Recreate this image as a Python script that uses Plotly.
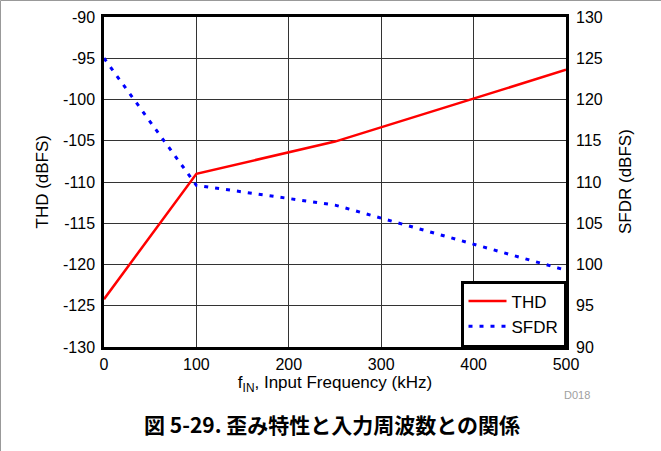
import plotly.graph_objects as go

# Input frequency (kHz) and measured distortion figures
freq_khz = [0, 100, 250, 500]
thd_dbfs = [-124.2, -109.0, -105.1, -96.4]
sfdr_dbfs = [125.0, 109.6, 107.2, 99.3]

x_ticks = [0, 100, 200, 300, 400, 500]
thd_ticks = [-130, -125, -120, -115, -110, -105, -100, -95, -90]
sfdr_ticks = [90, 95, 100, 105, 110, 115, 120, 125, 130]

W, H = 661, 451
L, R, T, B = 104, 95, 17, 104
PW, PH = W - L - R, H - T - B


def px(xp):
    return (xp - L) / PW


def py(yp):
    return (H - B - yp) / PH


FONT = "Liberation Sans"
TICK = 16
TITLE = 17

fig = go.Figure()
fig.add_trace(go.Scatter(
    x=freq_khz, y=thd_dbfs, name="THD", mode="lines",
    line=dict(color="#ff0000", width=2.5),
))
fig.add_trace(go.Scatter(
    x=freq_khz, y=sfdr_dbfs, name="SFDR", mode="lines", yaxis="y2",
    line=dict(color="#0000ff", width=3, dash="4px,7px"),
))

axis_common = dict(
    showline=True, linecolor="black", linewidth=2.5, mirror=True,
    ticks="", tickfont=dict(family=FONT, size=TICK, color="black"),
    zeroline=False,
)

fig.update_layout(
    width=W, height=H,
    margin=dict(l=L, r=R, t=T, b=B, autoexpand=False),
    paper_bgcolor="white", plot_bgcolor="white",
    font=dict(family=FONT, color="black"),
    xaxis=dict(
        range=[0, 500], tickvals=x_ticks, ticktext=[str(v) for v in x_ticks],
        showgrid=True, gridcolor="#333333", gridwidth=1,
        ticklabelstandoff=1,
        title=dict(text="f<sub>IN</sub>, Input Frequency (kHz)",
                   font=dict(family=FONT, size=TITLE), standoff=4),
        **axis_common,
    ),
    yaxis=dict(
        range=[-130, -90], tickvals=thd_ticks,
        ticktext=[str(v) for v in thd_ticks],
        showgrid=True, gridcolor="#333333", gridwidth=1,
        ticklabelstandoff=3,
        **axis_common,
    ),
    yaxis2=dict(
        range=[90, 130], tickvals=sfdr_ticks,
        ticktext=[str(v) for v in sfdr_ticks],
        overlaying="y", side="right",
        showgrid=False, showline=False, ticks="", zeroline=False,
        ticklabelstandoff=9,
        tickfont=dict(family=FONT, size=TICK, color="black"),
    ),
    legend=dict(
        x=1, y=0, xanchor="right", yanchor="bottom",
        bgcolor="white", bordercolor="black", borderwidth=2.5,
        font=dict(family=FONT, size=17), tracegroupgap=0, itemwidth=38,
    ),
    showlegend=True,
)

annotations = [
    dict(text="THD (dBFS)", x=px(41.5), y=0.5, textangle=-90,
         font=dict(family=FONT, size=TITLE)),
    dict(text="SFDR (dBFS)", x=px(625), y=0.5, textangle=-90,
         font=dict(family=FONT, size=TITLE)),
    dict(text="D018", x=px(577), y=py(395),
         font=dict(family=FONT, size=11, color="#a0a0a0")),
    dict(text="<b>図 5-29. 歪み特性と入力周波数との関係</b>", x=px(332), y=py(424),
         font=dict(family="Noto Sans CJK JP", size=21, color="black")),
]
for a in annotations:
    a.update(xref="paper", yref="paper", showarrow=False,
             xanchor="center", yanchor="middle")
fig.update_layout(annotations=annotations)

# thin gray frame along the top and left edges of the figure
fig.add_shape(type="line", xref="paper", yref="paper",
              x0=px(0.5), x1=px(W), y0=py(0.5), y1=py(0.5),
              line=dict(color="#999999", width=1))
fig.add_shape(type="line", xref="paper", yref="paper",
              x0=px(0.5), x1=px(0.5), y0=py(0.5), y1=py(H),
              line=dict(color="#999999", width=1))

fig.write_html("out.html")
